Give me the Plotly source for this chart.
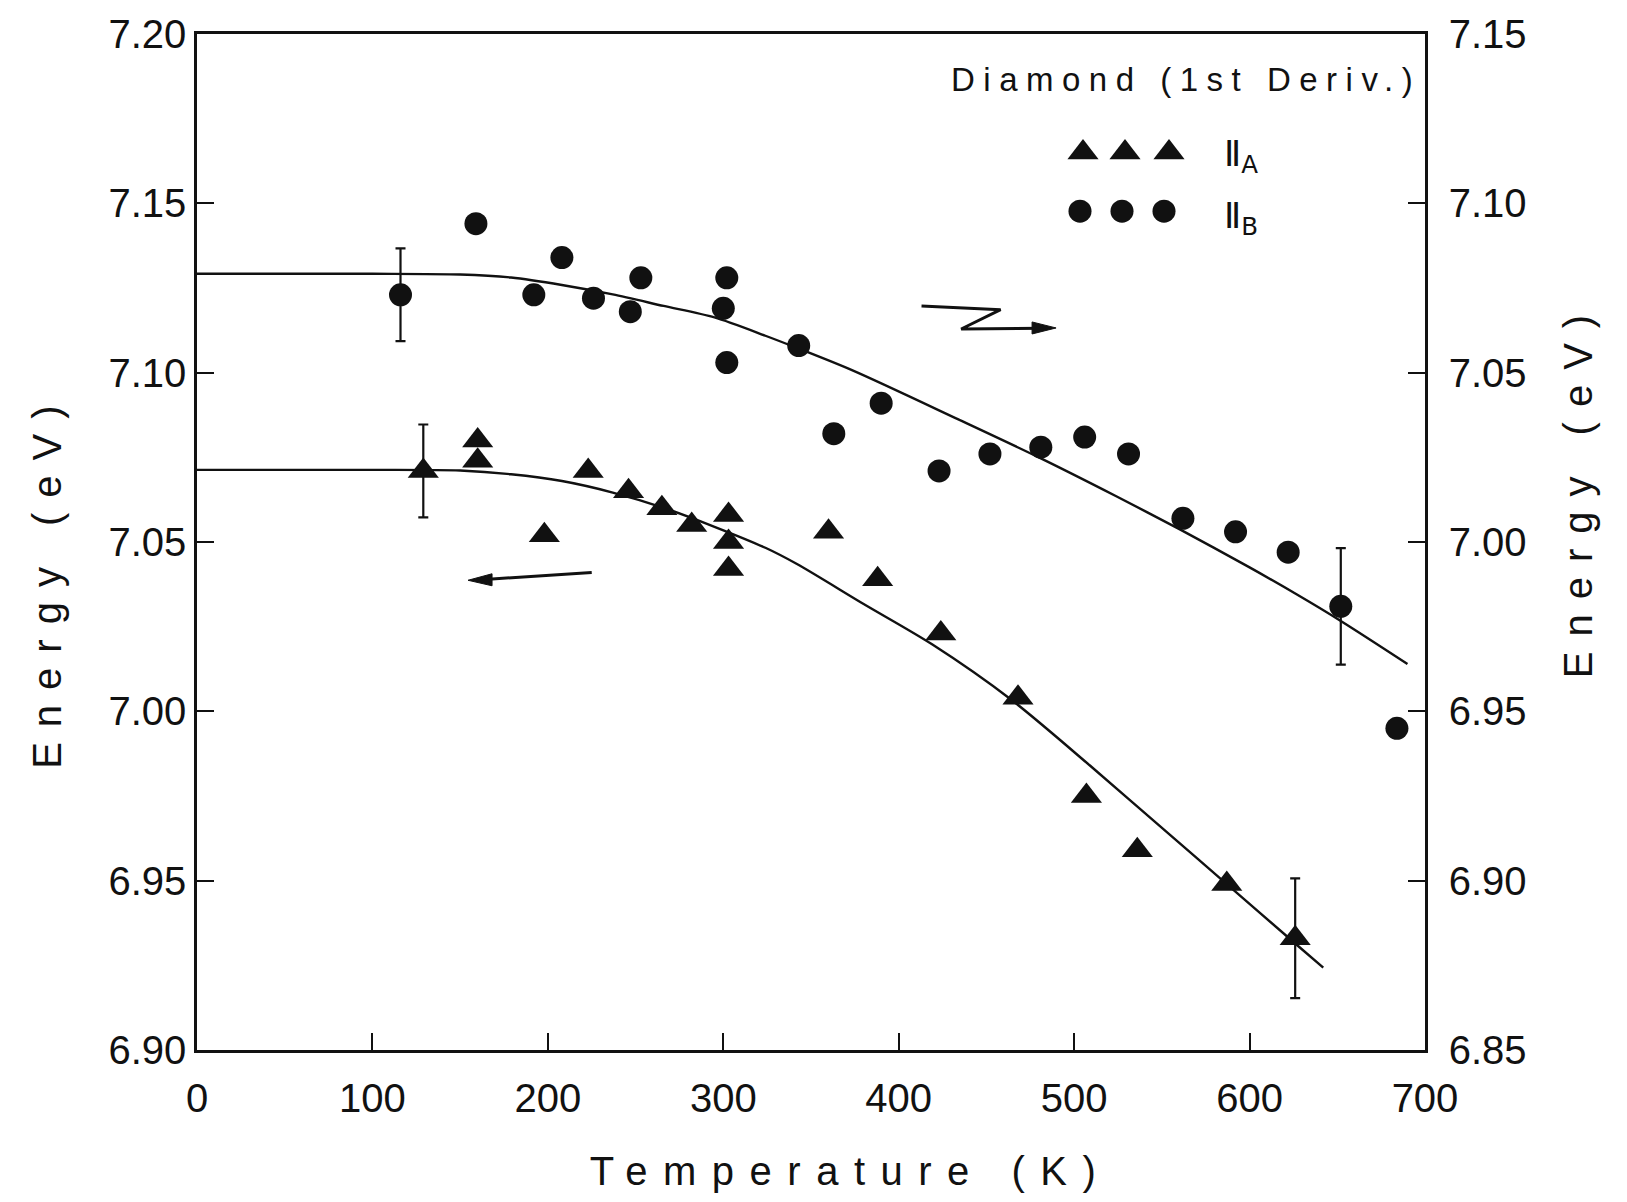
import plotly.graph_objects as go

# ---------------- data ----------------
# II_A : triangles, left axis (eV)
tri_T = [129, 160, 160, 198, 223, 246, 265, 282, 303, 303, 303, 360, 388, 424, 468, 507, 536, 587, 626]
tri_E = [7.071, 7.080, 7.074, 7.052, 7.071, 7.065, 7.060, 7.055, 7.058, 7.050, 7.042,
         7.053, 7.039, 7.023, 7.004, 6.975, 6.959, 6.949, 6.933]
tri_err = [0.0137, None, None, None, None, None, None, None, None, None, None,
           None, None, None, None, None, None, None, 0.0177]

# II_B : circles, right axis (eV)
cir_T = [116, 159, 192, 208, 226, 247, 253, 302, 300, 302, 343, 363, 390, 423, 452, 481,
         506, 531, 562, 592, 622, 652, 684]
cir_E = [7.073, 7.094, 7.073, 7.084, 7.072, 7.068, 7.078, 7.078, 7.069, 7.053, 7.058,
         7.032, 7.041, 7.021, 7.026, 7.028, 7.031, 7.026, 7.007, 7.003, 6.997, 6.981, 6.945]
cir_err = [0.0137, None, None, None, None, None, None, None, None, None, None, None,
           None, None, None, None, None, None, None, None, None, 0.0172, None]

# fitted curves
fitA_T = [0, 100, 150, 179, 208, 237, 266, 295, 324, 342, 380, 419, 464, 509, 554, 587, 627, 642]
fitA_E = [7.0713, 7.0713, 7.0711, 7.0700, 7.0680, 7.0646, 7.0601, 7.0545, 7.0483, 7.0435,
          7.0317, 7.0198, 7.0035, 6.9840, 6.9638, 6.9490, 6.9310, 6.9243]
fitB_T = [0, 100, 150, 179, 208, 237, 266, 295, 324, 342, 374, 434, 479, 524, 560, 600, 627, 652, 690]
fitB_E = [7.0792, 7.0792, 7.0790, 7.0781, 7.0759, 7.0731, 7.0697, 7.0663, 7.0609, 7.0573,
          7.0506, 7.0362, 7.0252, 7.0135, 7.0038, 6.9925, 6.9845, 6.9767, 6.9640]

x_ticks = [0, 100, 200, 300, 400, 500, 600, 700]
yL_ticks = [6.90, 6.95, 7.00, 7.05, 7.10, 7.15, 7.20]
yR_ticks = [6.85, 6.90, 6.95, 7.00, 7.05, 7.10, 7.15]

# ---------------- layout constants ----------------
W, H = 1627, 1202
L, R, T, B = 197, 202, 29, 152
PW, PH = W - L - R, H - T - B
INK = "#111111"
FONT = "Liberation Sans"


def px(xp, yp):
    """full-image pixel -> paper coords"""
    return (xp - L) / PW, 1 - (yp - T) / PH


fig = go.Figure()

fig.add_trace(go.Scatter(x=fitA_T, y=fitA_E, mode="lines",
                         line=dict(color=INK, width=2.4, shape="spline", smoothing=0.8),
                         hoverinfo="skip", showlegend=False))
fig.add_trace(go.Scatter(x=fitB_T, y=fitB_E, mode="lines", yaxis="y2",
                         line=dict(color=INK, width=2.4, shape="spline", smoothing=0.8),
                         hoverinfo="skip", showlegend=False))
fig.add_trace(go.Scatter(x=tri_T, y=tri_E, mode="markers", name="II_A",
                         marker=dict(symbol="triangle-up", size=27, color=INK),
                         error_y=dict(type="data", array=tri_err, symmetric=True, color=INK, thickness=2.2, width=5),
                         showlegend=False))
fig.add_trace(go.Scatter(x=cir_T, y=cir_E, mode="markers", name="II_B", yaxis="y2",
                         marker=dict(symbol="circle", size=23, color=INK),
                         error_y=dict(type="data", array=cir_err, symmetric=True, color=INK, thickness=2.2, width=5),
                         showlegend=False))

# legend keys (three markers each) on an overlay paper-like axis pair
kx_tri = [px(1083, 0)[0], px(1125, 0)[0], px(1169, 0)[0]]
ky_tri = [px(0, 148)[1]] * 3
kx_cir = [px(1080, 0)[0], px(1122, 0)[0], px(1164, 0)[0]]
ky_cir = [px(0, 207)[1]] * 3
fig.add_trace(go.Scatter(x=kx_tri, y=ky_tri, xaxis="x3", yaxis="y3", mode="markers",
                         marker=dict(symbol="triangle-up", size=27, color=INK), hoverinfo="skip", showlegend=False))
fig.add_trace(go.Scatter(x=kx_cir, y=ky_cir, xaxis="x3", yaxis="y3", mode="markers",
                         marker=dict(symbol="circle", size=23, color=INK), hoverinfo="skip", showlegend=False))

axis_common = dict(showgrid=False, zeroline=False, showline=True, linecolor=INK, linewidth=2.5,
                   ticks="inside", ticklen=17, tickwidth=2.3, tickcolor=INK,
                   tickfont=dict(family=FONT, size=40, color=INK))

fig.update_layout(
    width=W, height=H, margin=dict(l=L, r=R, t=T, b=B, pad=0),
    paper_bgcolor="white", plot_bgcolor="white",
    xaxis=dict(range=[0, 700], tickvals=x_ticks, ticktext=[str(v) for v in x_ticks],
               mirror=True, ticklabelstandoff=11, **axis_common),
    yaxis=dict(range=[6.90, 7.20], tickvals=yL_ticks, ticktext=[f"{v:.2f}" for v in yL_ticks],
               ticklabelstandoff=0, **axis_common),
    yaxis2=dict(range=[6.85, 7.15], tickvals=yR_ticks, ticktext=[f"{v:.2f}" for v in yR_ticks],
                overlaying="y", side="right", ticklabelstandoff=13, **axis_common),
    xaxis3=dict(range=[0, 1], overlaying="x", visible=False),
    yaxis3=dict(range=[0, 1], overlaying="y", visible=False),
    showlegend=False,
)

ann = []
# axis titles
x0, y0 = px(850, 1172)
ann.append(dict(text="Temperature (K)", xref="paper", yref="paper", x=x0, y=y0, showarrow=False,
                xanchor="center", yanchor="middle", font=dict(family=FONT, size=40, color=INK)))
x0, y0 = px(47, 578)
ann.append(dict(text="Energy (eV)", xref="paper", yref="paper", x=x0, y=y0, showarrow=False, textangle=-90,
                xanchor="center", yanchor="middle", font=dict(family=FONT, size=40, color=INK)))
x0, y0 = px(1578, 487)
ann.append(dict(text="Energy (eV)", xref="paper", yref="paper", x=x0, y=y0, showarrow=False, textangle=-90,
                xanchor="center", yanchor="middle", font=dict(family=FONT, size=40, color=INK)))
# inset label
x0, y0 = px(1186, 75)
ann.append(dict(text="Diamond (1st Deriv.)", xref="paper", yref="paper", x=x0, y=y0, showarrow=False,
                xanchor="center", yanchor="middle", font=dict(family=FONT, size=33, color=INK)))
# legend labels
x0, y0 = px(1222, 152)
ann.append(dict(text="Ⅱ<sub>A</sub>", xref="paper", yref="paper", x=x0, y=y0, showarrow=False,
                xanchor="left", yanchor="middle", font=dict(family="DejaVu Sans", size=35, color=INK)))
x0, y0 = px(1222, 214)
ann.append(dict(text="Ⅱ<sub>B</sub>", xref="paper", yref="paper", x=x0, y=y0, showarrow=False,
                xanchor="left", yanchor="middle", font=dict(family="DejaVu Sans", size=35, color=INK)))
fig.update_layout(annotations=ann)

# arrow pointing to the left axis (shaft + head)
fig.add_shape(type="line", xref="x", yref="y", x0=225, y0=7.041, x1=160, y1=7.0388,
              line=dict(color=INK, width=3))
fig.add_shape(type="path", xref="x", yref="y", xsizemode="pixel", ysizemode="pixel",
              xanchor=154.5, yanchor=7.0387, path="M 0,0 L 24,6.5 L 24,-5.5 Z",
              fillcolor=INK, line=dict(color=INK, width=1))
# broken arrow pointing to the right axis
fig.add_shape(type="path", xref="x", yref="y",
              path="M 413.0,7.1197 L 458.1,7.1186 L 435.6,7.1129 L 482.0,7.1131",
              line=dict(color=INK, width=3))
fig.add_shape(type="path", xref="x", yref="y", xsizemode="pixel", ysizemode="pixel",
              xanchor=489.7, yanchor=7.1132, path="M 0,0 L -24,6 L -24,-6 Z",
              fillcolor=INK, line=dict(color=INK, width=1))

post = """
document.body.style.margin = '0';
document.body.style.padding = '0';
var gd = document.getElementById('{plot_id}');
var sp = {'Temperature (K)': 15.5, 'Energy (eV)': 15, 'Diamond (1st Deriv.)': 8.5};
gd.querySelectorAll('text.annotation-text').forEach(function(t){
  var s = sp[t.textContent];
  if (s !== undefined) { t.style.letterSpacing = s + 'px'; }
});
"""

fig.write_html("out.html", post_script=post, config={"displayModeBar": False})
